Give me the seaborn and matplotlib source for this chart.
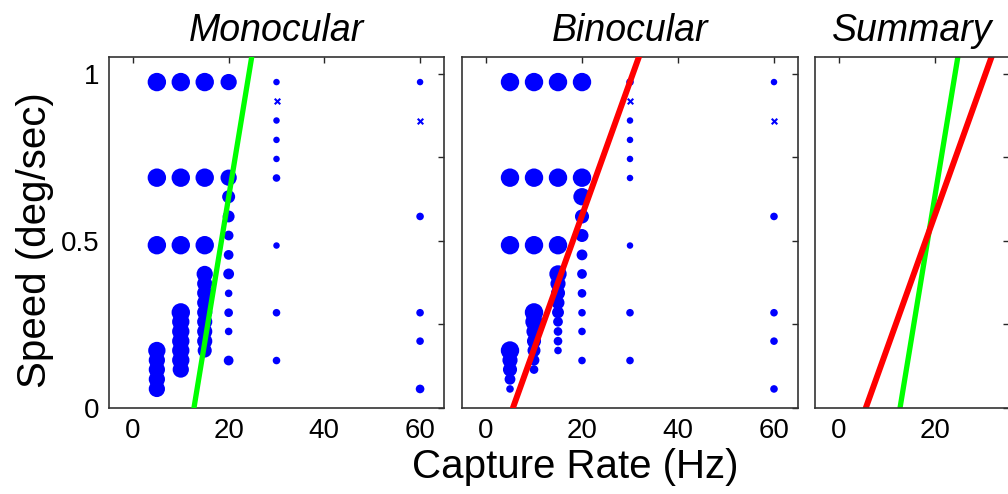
import matplotlib
matplotlib.use("Agg")
import matplotlib.pyplot as plt
import seaborn as sns
import pandas as pd
import numpy as np

# ---------------- data ----------------
# Monocular: capture rate (Hz), speed (deg/sec), relative weight (marker magnitude)
mono_rate = [5, 5, 5, 5, 5, 5, 5, 5,
             10, 10, 10, 10, 10, 10, 10, 10, 10, 10,
             15, 15, 15, 15, 15, 15, 15, 15, 15, 15, 15, 15,
             20, 20, 20, 20, 20, 20, 20, 20, 20, 20, 20,
             30, 30, 30, 30, 30, 30, 30, 30,
             60, 60, 60, 60, 60]
mono_speed = [0.975, 0.689, 0.487, 0.172, 0.143, 0.115, 0.086, 0.057,
              0.975, 0.689, 0.487, 0.286, 0.258, 0.229, 0.200, 0.172, 0.143, 0.115,
              0.975, 0.689, 0.487, 0.401, 0.372, 0.344, 0.315, 0.286, 0.258, 0.229, 0.200, 0.172,
              0.975, 0.689, 0.632, 0.573, 0.516, 0.458, 0.401, 0.343, 0.285, 0.229, 0.142,
              0.975, 0.860, 0.802, 0.745, 0.688, 0.486, 0.285, 0.142,
              0.975, 0.573, 0.285, 0.200, 0.057]
mono_weight = [17, 17, 17, 16, 15, 15, 15, 15,
               17, 17, 17, 17, 16, 16, 16, 16, 16, 15,
               17, 17, 17, 15, 14, 14, 14, 14, 14, 14, 14, 13,
               15, 15, 12, 11, 9, 9, 10, 7, 8, 7, 9,
               6, 6, 6, 6, 7, 6, 7, 7,
               6, 7, 7, 7, 8]
mono_x_rate = [30, 60]
mono_x_speed = [0.917, 0.860]

# Binocular
bino_rate = mono_rate
bino_speed = mono_speed
bino_weight = [17, 17, 17, 17, 14, 13, 10, 7,
               17, 17, 17, 17, 16, 14, 13, 12, 10, 8,
               17, 17, 17, 16, 14, 13, 12, 11, 9, 8, 8, 7,
               17, 17, 16, 13, 12, 10, 9, 8, 7, 7, 7,
               7, 6, 6, 6, 6, 6, 7, 7,
               6, 7, 7, 7, 7]
bino_x_rate = [30, 60]
bino_x_speed = [0.917, 0.860]

# Linear fits: capture rate at zero speed (Hz) and slope (deg/sec per Hz)
fit_names = ["Monocular", "Binocular"]
fit_rate0 = [12.75, 5.6]
fit_slope = [0.087, 0.040]
fit_colors = {"Monocular": "#00ff00", "Binocular": "#ff0000"}

xticks = [0, 20, 40, 60]
yticks = [0, 0.25, 0.5, 0.75, 1.0]
ytick_labels = ["0", "", "0.5", "", "1"]

# ---------------- figure ----------------
sns.set_theme(style="white")
plt.rcParams["font.family"] = ["Liberation Sans", "DejaVu Sans"]
plt.rcParams["text.color"] = "black"

W, H = 1008, 494
fig = plt.figure(figsize=(W / 100, H / 100), dpi=100)


def ax_at(l, t, r, b):
    return fig.add_axes([l / W, 1 - b / H, (r - l) / W, (b - t) / H])


ax1 = ax_at(109, 57, 444, 408)
ax2 = ax_at(462, 57, 798, 408)
ax3 = ax_at(815, 57, 1009, 408)

all_w = sorted(set(mono_weight) | set(bino_weight))
size_map = {w: (w * 0.78) ** 2 for w in all_w}


def fit_line(name):
    i = fit_names.index(name)
    sp = np.array([0.0, 1.1])
    rt = fit_rate0[i] + sp / fit_slope[i]
    return pd.DataFrame({"rate": rt, "speed": sp})


def draw_panel(ax, rate, speed, weight, xr, xs, fitname, lw):
    df = pd.DataFrame({"rate": rate, "speed": speed, "weight": weight})
    sns.scatterplot(data=df, x="rate", y="speed", size="weight", sizes=size_map,
                    color="#0000ff", linewidth=0, legend=False, ax=ax, zorder=2)
    sns.scatterplot(x=xr, y=xs, marker="x", color="#0000ff", s=16, linewidth=1.5,
                    legend=False, ax=ax, zorder=2)
    fl = fit_line(fitname)
    sns.lineplot(data=fl, x="rate", y="speed", color=fit_colors[fitname], lw=lw,
                 sort=False, estimator=None, ax=ax, zorder=3)


draw_panel(ax1, mono_rate, mono_speed, mono_weight, mono_x_rate, mono_x_speed, "Monocular", 3.8)
draw_panel(ax2, bino_rate, bino_speed, bino_weight, bino_x_rate, bino_x_speed, "Binocular", 4.3)

for name, lw in [("Monocular", 3.8), ("Binocular", 4.3)]:
    fl = fit_line(name)
    sns.lineplot(data=fl, x="rate", y="speed", color=fit_colors[name], lw=lw,
                 sort=False, estimator=None, ax=ax3)

for ax, title in [(ax1, "Monocular"), (ax2, "Binocular"), (ax3, "Summary")]:
    ax.set_ylim(0, 1.05)
    ax.set_yticks(yticks)
    ax.set_xlabel("")
    ax.set_ylabel("")
    ax.set_title(title, fontsize=27, style="italic", pad=11.5, color="black")
    ax.tick_params(direction="in", length=4, width=1, top=True, right=True,
                   labelsize=20, pad=7, colors="0.15", labelcolor="black")
    for s in ax.spines.values():
        s.set_color("0.2")
        s.set_linewidth(1.2)
    ax.set_facecolor("white")

ax1.set_xlim(-5, 65)
ax2.set_xlim(-5, 65)
ax3.set_xlim(-5, 35.5)
ax1.set_xticks(xticks)
ax2.set_xticks(xticks)
ax3.set_xticks([0, 20])
ax1.set_yticklabels(ytick_labels)
ax2.set_yticklabels([])
ax3.set_yticklabels([])

fig.text(35 / W, 1 - 240 / H, "Speed (deg/sec)", rotation=90, ha="center", va="center",
         fontsize=29, color="black")
fig.text(575 / W, 16 / H, "Capture Rate (Hz)", ha="center", va="baseline", fontsize=29,
         color="black")

fig.savefig("out.png", dpi=100, facecolor="white")
